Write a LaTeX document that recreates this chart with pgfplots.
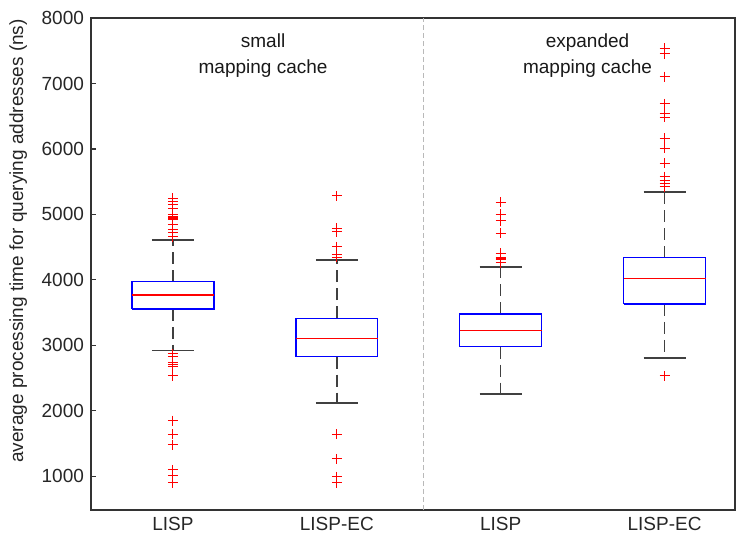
\documentclass[border=0pt]{standalone}
\usepackage{pgfplots}
\pgfplotsset{compat=1.18}
\usepackage{fontspec}
\setmainfont{Liberation Sans}

\newcommand{\lblfont}{\fontsize{9.5}{13}\selectfont}

\pgfplotsset{
  wsk/.style={black!75, line width=0.8pt, dash pattern=on 6pt off 3pt, forget plot},
  cap/.style={black!75, line width=0.8pt, solid, forget plot},
  bx/.style={blue, line width=0.7pt, solid, line join=miter, forget plot},
  med/.style={red, line width=0.7pt, solid, forget plot},
  out/.style={only marks, mark=+, mark size=2.5pt, mark options={red, solid, line width=0.5pt}, forget plot},
}

\begin{document}
\begin{tikzpicture}
\begin{axis}[
  name=ax,
  scale only axis,
  width=322pt, height=246pt,
  xmin=0.5, xmax=4.43,
  ymin=485, ymax=8000,
  xtick={1,2,3,4},
  xticklabels={LISP,LISP-EC,LISP,LISP-EC},
  ytick={1000,2000,...,8000},
  xtick style={draw=none},
  xtick pos=left, ytick pos=left,
  tick align=inside,
  major tick length=2.5pt,
  unbounded coords=jump,
  axis line style={black!80, line width=0.75pt},
  ytick style={black!80, line width=0.6pt},
  /pgf/number format/1000 sep={},
  /pgf/number format/assume math mode=true,
  tick label style={font=\lblfont, text=black!85},
  ylabel={average processing time for querying addresses (ns)},
  ylabel style={font=\lblfont, text=black!85, at={(axis description cs:-0.113,0.547)}, anchor=center, rotate=0},
]
\addplot[gray!55, line width=0.4pt, dash pattern=on 2.5pt off 1.5pt]
  coordinates {(2.53,485) (2.53,8000)};

% small cache, LISP
\addplot[wsk] coordinates {(1,3973) (1,4610) (1,nan) (1,3556) (1,2920)};
\addplot[cap] coordinates {(0.872,4610) (1.128,4610) (1,nan) (0.872,2920) (1.128,2920)};
\addplot[bx] coordinates {(0.75,3556) (1.25,3556) (1.25,3973) (0.75,3973) (0.75,3556)};
\addplot[med] coordinates {(0.75,3770) (1.25,3770)};
\addplot[out] coordinates {(1,5247) (1,5195) (1,5144) (1,5094) (1,4992) (1,4970) (1,4950)
  (1,4930) (1,4915) (1,4839) (1,4763) (1,4722) (1,4661)
  (1,2869) (1,2828) (1,2742) (1,2712) (1,2675) (1,2533)
  (1,1851) (1,1643) (1,1480) (1,1098) (1,1006) (1,904)};

% small cache, LISP-EC
\addplot[wsk] coordinates {(2,3414) (2,4305) (2,nan) (2,2828) (2,2116)};
\addplot[cap] coordinates {(1.872,4305) (2.128,4305) (2,nan) (1.872,2116) (2.128,2116)};
\addplot[bx] coordinates {(1.75,2828) (2.25,2828) (2.25,3414) (1.75,3414) (1.75,2828)};
\addplot[med] coordinates {(1.75,3109) (2.25,3109)};
\addplot[out] coordinates {(2,5282) (2,4789) (2,4737) (2,4508) (2,4381) (2,4346)
  (2,1643) (2,1266) (2,996) (2,904)};

% expanded cache, LISP
\addplot[wsk] coordinates {(3,3480) (3,4193) (3,nan) (3,2981) (3,2254)};
\addplot[cap] coordinates {(2.872,4193) (3.128,4193) (3,nan) (2.872,2254) (3.128,2254)};
\addplot[bx] coordinates {(2.75,2981) (3.25,2981) (3.25,3480) (2.75,3480) (2.75,2981)};
\addplot[med] coordinates {(2.75,3231) (3.25,3231)};
\addplot[out] coordinates {(3,5186) (3,5003) (3,4900) (3,4712) (3,4407) (3,4340)
  (3,4330) (3,4315) (3,4263)};

% expanded cache, LISP-EC
\addplot[wsk] coordinates {(4,4340) (4,5338) (4,nan) (4,3633) (4,2804)};
\addplot[cap] coordinates {(3.872,5338) (4.128,5338) (4,nan) (3.872,2804) (4.128,2804)};
\addplot[bx] coordinates {(3.75,3633) (4.25,3633) (4.25,4340) (3.75,4340) (3.75,3633)};
\addplot[med] coordinates {(3.75,4019) (4.25,4019)};
\addplot[out] coordinates {(4,7537) (4,7450) (4,7104) (4,6687) (4,6545) (4,6484)
  (4,6163) (4,6010) (4,5781) (4,5577) (4,5516) (4,5465) (4,5424) (4,2533)};

\node[align=center, font=\lblfont, text=black!90] at (axis cs:1.55,7420) {small\\mapping cache};
\node[align=center, font=\lblfont, text=black!90] at (axis cs:3.53,7420) {expanded\\mapping cache};
\end{axis}
\pgfresetboundingbox
\path ([shift={(-45.5pt,-15pt)}]ax.south west) rectangle ([shift={(1.5pt,9pt)}]ax.north east);
\end{tikzpicture}
\end{document}
